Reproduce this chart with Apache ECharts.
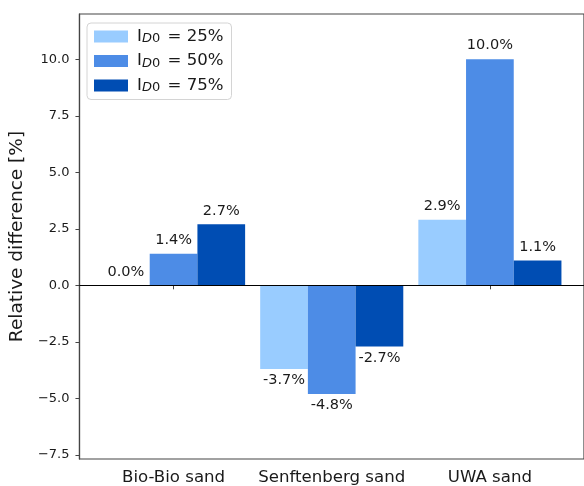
<!DOCTYPE html>
<html>
<head>
<meta charset="utf-8">
<script src="https://cdn.jsdelivr.net/npm/echarts@6/dist/echarts.min.js"></script>
<style>
  html, body { margin: 0; padding: 0; background: #fff; }
  #chart { width: 584px; height: 486px; }
</style>
</head>
<body>
<div id="chart"></div>
<script>
// Sand types along the x axis
const categories = ['Bio-Bio sand', 'Senftenberg sand', 'UWA sand'];
// Initial relative density levels (one series each)
const levels = ['25%', '50%', '75%'];
// Relative difference [%] per sand, for each density level
const values25 = [0.0, -3.7, 2.9];
const values50 = [1.4, -4.8, 10.0];
const values75 = [2.7, -2.7, 1.1];
// Y tick labels
const yTicks = [-7.5, -5.0, -2.5, 0.0, 2.5, 5.0, 7.5, 10.0];

const seriesValues = [values25, values50, values75];
const colors = ['#99CCFF', '#4D8CE6', '#004DB3'];
const FONT = 'DejaVu Sans';

const chart = echarts.init(document.getElementById('chart'), null, { renderer: 'canvas' });

const fmtTick = v => {
  const s = Math.abs(v).toFixed(1);
  return v < 0 ? '\u2212' + s : s;
};

const series = seriesValues.map((vals, si) => ({
  name: 'I_D0 = ' + levels[si],
  type: 'bar',
  barWidth: 47.7,
  barGap: '0%',
  itemStyle: { color: colors[si] },
  data: vals.map((v, ci) => ({
    value: [ci, v],
    label: { position: v < 0 ? 'bottom' : 'top', distance: v < 0 ? 4 : 6 }
  })),
  label: {
    show: true,
    fontFamily: FONT,
    fontSize: 14.5,
    color: '#1a1a1a',
    formatter: p => p.value[1].toFixed(1) + '%'
  },
  z: 2
}));

// Horizontal reference line at zero
series[0].markLine = {
  silent: true,
  symbol: ['none', 'none'],
  label: { show: false },
  lineStyle: { color: '#000', width: 1.2, type: 'solid' },
  data: [{ yAxis: 0 }],
  z: 5
};

chart.setOption({
  animation: false,
  backgroundColor: '#fff',
  grid: {
    left: 79, top: 14, right: -2, bottom: 26,
    show: true, borderColor: '#444', borderWidth: 1.2, backgroundColor: 'transparent'
  },
  legend: {
    orient: 'vertical',
    left: 87, top: 23,
    padding: [5, 8, 5, 7],
    itemWidth: 34, itemHeight: 12,
    itemGap: 7,
    backgroundColor: 'rgba(255,255,255,0.85)',
    borderColor: '#d4d4d4', borderWidth: 1, borderRadius: 4,
    icon: 'rect',
    data: series.map(s => s.name),
    formatter: name => {
      const pct = name.split('= ')[1];
      return '{i|I}{d|D}{z|0}{a| = ' + pct + '}';
    },
    textStyle: {
      rich: {
        i: { fontFamily: FONT, fontSize: 16.6, color: '#1a1a1a', lineHeight: 18, padding: [0, 0, 0, 4] },
        a: { fontFamily: FONT, fontSize: 16.6, color: '#1a1a1a', lineHeight: 18, padding: [0, 0, 0, 2] },
        d: { fontFamily: FONT, fontSize: 13, fontStyle: 'italic', color: '#1a1a1a', lineHeight: 12, verticalAlign: 'bottom' },
        z: { fontFamily: FONT, fontSize: 13, color: '#1a1a1a', lineHeight: 12, verticalAlign: 'bottom' }
      }
    }
  },
  xAxis: {
    type: 'value',
    min: -0.595, max: 2.595,
    splitLine: { show: false },
    axisLine: { show: true, lineStyle: { color: '#444', width: 1.2 } },
    axisTick: { show: true, customValues: [0, 1, 2], length: 4, lineStyle: { color: '#444', width: 1 } },
    axisLabel: {
      customValues: [0, 1, 2],
      formatter: v => categories[Math.round(v)],
      fontFamily: FONT, fontSize: 16.6, color: '#1a1a1a', margin: 10
    }
  },
  yAxis: {
    type: 'value',
    min: -7.68, max: 12.0,
    name: 'Relative difference [%]',
    nameLocation: 'middle',
    nameGap: 52,
    nameTextStyle: { fontFamily: FONT, fontSize: 18.5, color: '#1a1a1a' },
    splitLine: { show: false },
    axisLine: { show: true, onZero: false, lineStyle: { color: '#444', width: 1.2 } },
    axisTick: { show: true, customValues: yTicks, length: 4, lineStyle: { color: '#444', width: 1 } },
    axisLabel: {
      customValues: yTicks,
      formatter: fmtTick,
      fontFamily: FONT, fontSize: 13, color: '#1a1a1a', margin: 10
    }
  },
  series: series
});
</script>
</body>
</html>
